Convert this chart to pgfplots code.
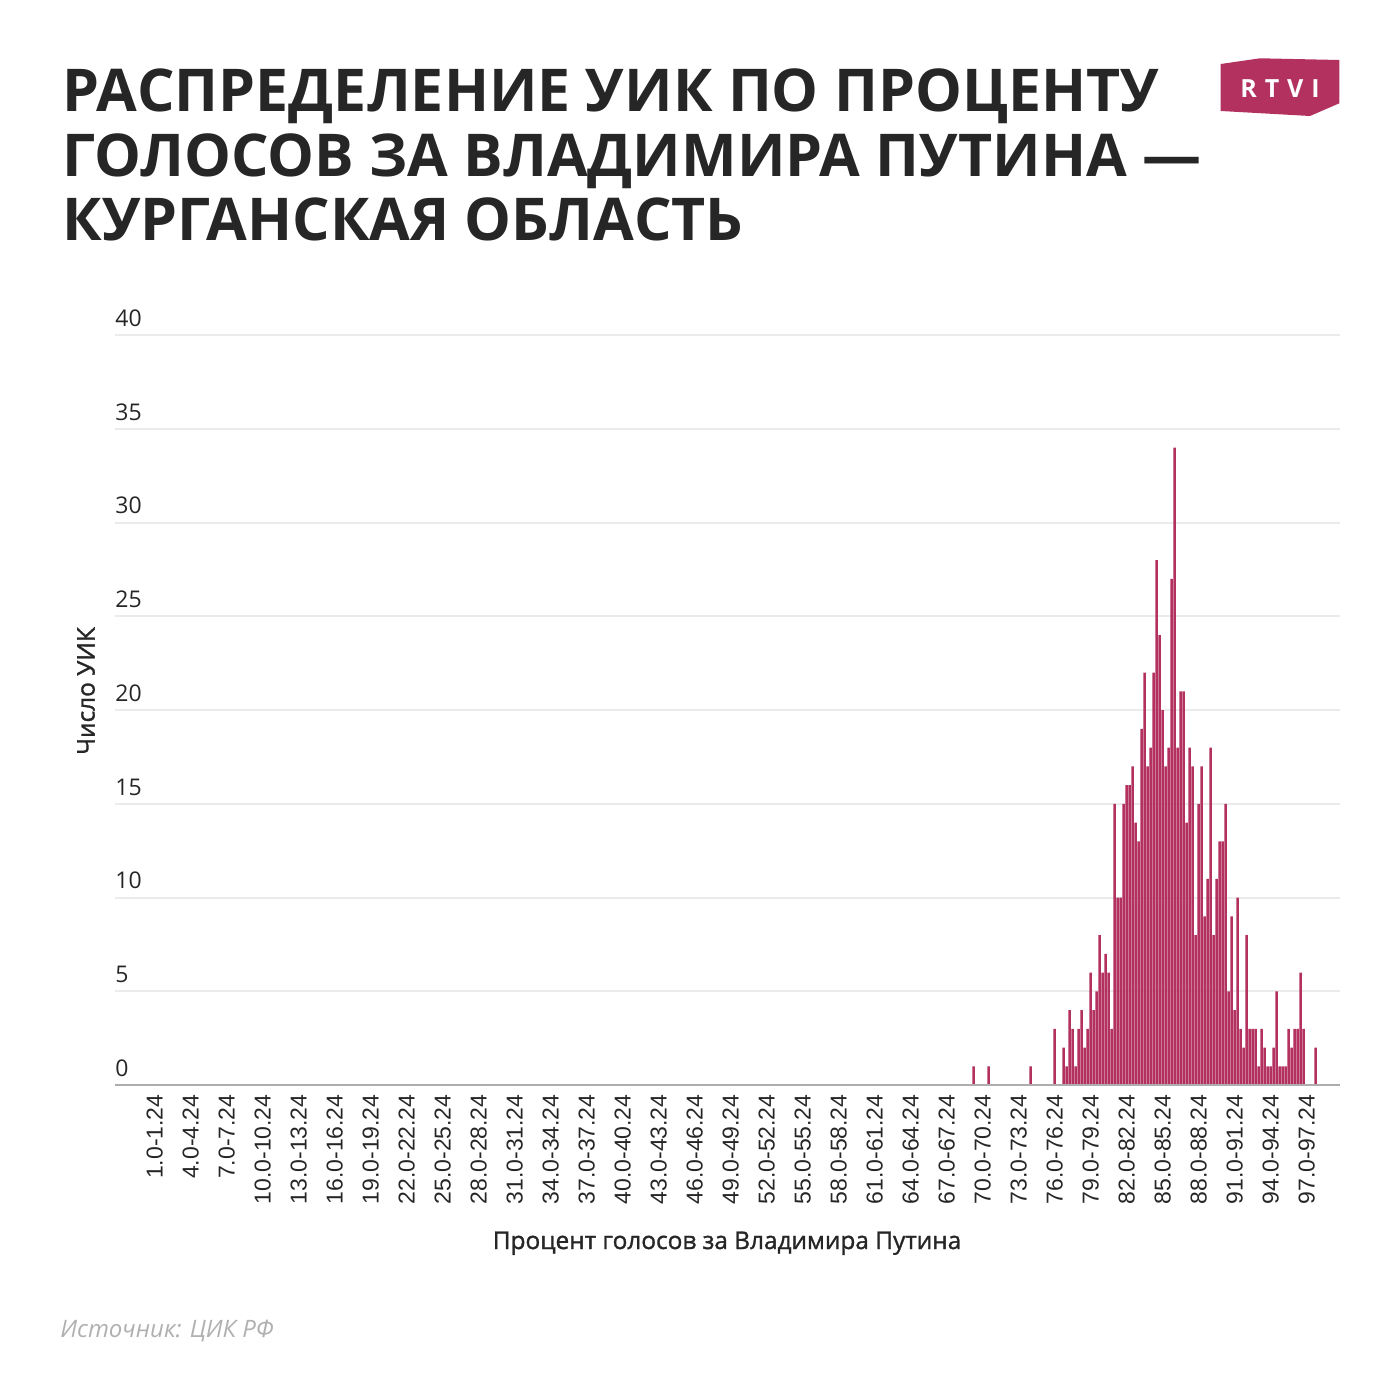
\documentclass[border=0pt]{standalone}
\usepackage{fontspec}
\setmainfont{Open Sans}
\newfontfamily\arial{Liberation Sans}
\newfontfamily\semib[FakeBold=1.3]{Open Sans}
\usepackage{pgfplots}
\pgfplotsset{compat=1.18}
\definecolor{barcol}{HTML}{B3315F}
\definecolor{txt}{HTML}{262626}
\definecolor{gridc}{HTML}{EBEBEB}
\definecolor{axc}{HTML}{ADADAD}
\definecolor{srcc}{HTML}{B0B0B0}
\begin{document}
\begin{tikzpicture}
\path[use as bounding box, x=0.5pt, y=-0.5pt] (0,0) rectangle (1400,1400);
\begin{scope}[x=0.5pt,y=-0.5pt]
\node[anchor=base west, inner sep=0, text=txt, font=\fontsize{29.5}{32}\selectfont\bfseries] at (62,112) {РАСПРЕДЕЛЕНИЕ УИК ПО ПРОЦЕНТУ};
\node[anchor=base west, inner sep=0, text=txt, font=\fontsize{29.5}{32}\selectfont\bfseries] at (62,177) {ГОЛОСОВ ЗА ВЛАДИМИРА ПУТИНА —};
\node[anchor=base west, inner sep=0, text=txt, font=\fontsize{29.5}{32}\selectfont\bfseries] at (62,241) {КУРГАНСКАЯ ОБЛАСТЬ};
\fill[barcol] (1220.7,64) -- (1260,58.3) -- (1339.3,60) -- (1339.3,103.3) -- (1310,116) -- (1220.7,111) -- cycle;
\node[text=white, inner sep=0, font=\fontsize{12.5}{12}\selectfont\bfseries] at (1280,88.5) {R\kern4pt T\kern4pt V\kern4pt I};
\node[rotate=90, text=txt, font=\semib\fontsize{12.2}{12}\selectfont] at (86,691) {Число УИК};
\node[anchor=base, text=txt, font=\semib\fontsize{12.2}{12}\selectfont] at (727,1249) {Процент голосов за Владимира Путина};
\node[anchor=base west, inner sep=0, text=srcc, font=\fontsize{12}{12}\selectfont\itshape] at (60,1337) {Источник: ЦИК РФ};
\end{scope}
\begin{axis}[
  at={(57.5pt,-542.5pt)}, anchor=south west,
  width=612.5pt, height=375pt, scale only axis,
  xmin=-2.31, xmax=99.78, ymin=0, ymax=40,
  axis x line*=bottom, axis y line*=left,
  axis line style={draw=none},
  major tick length=0pt,
  ytick={0,5,...,40},
  ymajorgrids, grid style={gridc, line width=1pt},
  xtick={1,4,...,97},
  xticklabels={1.0-1.24,4.0-4.24,7.0-7.24,10.0-10.24,13.0-13.24,16.0-16.24,19.0-19.24,22.0-22.24,25.0-25.24,28.0-28.24,31.0-31.24,34.0-34.24,37.0-37.24,40.0-40.24,43.0-43.24,46.0-46.24,49.0-49.24,52.0-52.24,55.0-55.24,58.0-58.24,61.0-61.24,64.0-64.24,67.0-67.24,70.0-70.24,73.0-73.24,76.0-76.24,79.0-79.24,82.0-82.24,85.0-85.24,88.0-88.24,91.0-91.24,94.0-94.24,97.0-97.24},
  xticklabel style={yshift=-4.5pt, rotate=90, anchor=east, inner sep=0pt, text=txt, font=\arial\fontsize{11.5}{12}\selectfont},
  yticklabel style={anchor=south west, inner sep=0pt, text=txt, font=\fontsize{11.5}{12}\selectfont, yshift=4pt},
  /pgf/number format/assume math mode=true,
  ybar, bar width=0.215,
]
\addplot[fill=barcol, draw=none] coordinates {
(69.25,1) (70.5,1) (74.0,1) (76.0,3) (76.75,2) (77.0,1) (77.25,4) (77.5,3) (77.75,1)
(78.0,3) (78.25,4) (78.5,2) (78.75,3) (79.0,6) (79.25,4) (79.5,5) (79.75,8)
(80.0,6) (80.25,7) (80.5,6) (80.75,3) (81.0,15) (81.25,10) (81.5,10) (81.75,15)
(82.0,16) (82.25,16) (82.5,17) (82.75,14) (83.0,13) (83.25,19) (83.5,22) (83.75,17)
(84.0,18) (84.25,22) (84.5,28) (84.75,24) (85.0,20) (85.25,17) (85.5,18) (85.75,27)
(86.0,34) (86.25,18) (86.5,21) (86.75,21) (87.0,14) (87.25,18) (87.5,17) (87.75,8)
(88.0,15) (88.25,17) (88.5,9) (88.75,11) (89.0,18) (89.25,8) (89.5,11) (89.75,13)
(90.0,13) (90.25,15) (90.5,5) (90.75,9) (91.0,4) (91.25,10) (91.5,3) (91.75,2)
(92.0,8) (92.25,3) (92.5,3) (92.75,3) (93.0,1) (93.25,3) (93.5,2) (93.75,1)
(94.0,1) (94.25,2) (94.5,5) (94.75,1) (95.0,1) (95.25,1) (95.5,3) (95.75,2)
(96.0,3) (96.25,3) (96.5,6) (96.75,3) (97.75,2)
};
\draw[axc, line width=1.5pt] (rel axis cs:0,0) -- (rel axis cs:1,0);
\end{axis}
\end{tikzpicture}
\end{document}
